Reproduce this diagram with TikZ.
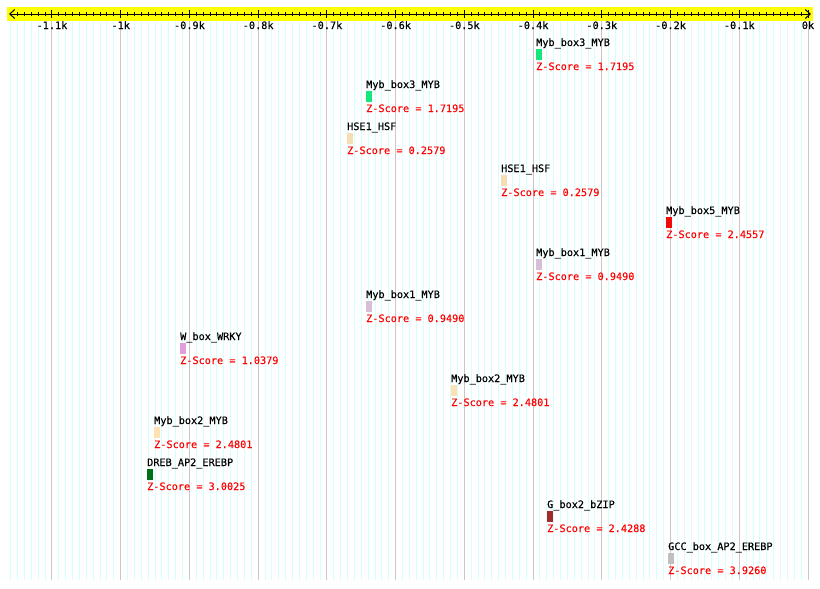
\documentclass[tikz,border=0pt]{standalone}
\usepackage{fontspec}
\newfontfamily\pixmono[FakeBold=0.3]{DejaVu Sans Mono}
\usetikzlibrary{arrows.meta}
\definecolor{gridcyan}{RGB}{212,255,255}
\definecolor{gridgray}{RGB}{200,200,200}
\definecolor{axisyellow}{RGB}{255,255,0}
\definecolor{mybgreen}{RGB}{20,232,125}
\definecolor{hsewheat}{RGB}{245,222,179}
\definecolor{mybred}{RGB}{240,10,10}
\definecolor{mybthistle}{RGB}{216,191,216}
\definecolor{wboxplum}{RGB}{221,160,221}
\definecolor{mybmocc}{RGB}{255,226,180}
\definecolor{drebgreen}{RGB}{0,112,24}
\definecolor{gboxbrown}{RGB}{165,42,42}
\definecolor{gccsilver}{RGB}{192,192,192}
\newcommand\motifitem[6]{%
  \node[lbl] (n#1) at (#2,{46+42*(#3-1)}) {#4};
  \node[mbox,fill=#5] (b#1) at (#2,{49+42*(#3-1)}) {};
  \node[zlbl] (z#1) at (#2,{70+42*(#3-1)}) {Z-Score = #6};}
\begin{document}
\begin{tikzpicture}[x=1pt,y=-1pt,
  lbl/.style={anchor=base west,inner sep=0pt,font=\pixmono\fontsize{10.2}{12}\selectfont,text=black},
  zlbl/.style={lbl,text=red},
  mbox/.style={anchor=north west,inner sep=0pt,minimum width=5.5pt,minimum height=11pt,draw=none},
  ticklbl/.style={anchor=base,inner sep=0pt,font=\pixmono\fontsize{10.2}{12}\selectfont,text=black},
  gridline/.style={line width=1pt}]
\useasboundingbox (0,0) rectangle (820,589);
\fill[white] (0,0) rectangle (820,589);
% grid
\foreach \i in {-116,...,0}
  \draw[gridline,gridcyan] ({808+6.873*\i},21) -- ({808+6.873*\i},580);
\foreach \i in {-11,...,0}
  \draw[gridline,gridgray] ({808+68.73*\i},21) -- ({808+68.73*\i},580);
% axis band
\fill[axisyellow] (7,7) rectangle (813,21);
\coordinate (axl) at (9,14);
\coordinate (axr) at (811,14);
\draw[line width=1pt,{Straight Barb[length=5pt,width=9pt]}-{Straight Barb[length=5pt,width=9pt]}] (axl) -- (axr);
\foreach \i in {-115,...,0}
  \draw[line width=1pt] ({808+6.873*\i},12) -- ++(0,4);
\foreach \i in {-11,...,0}
  \draw[line width=1pt] ({808+68.73*\i},10) -- ++(0,8);
\foreach \i/\t [count=\k] in {-11/-1.1k,-10/-1k,-9/-0.9k,-8/-0.8k,-7/-0.7k,-6/-0.6k,-5/-0.5k,-4/-0.4k,-3/-0.3k,-2/-0.2k,-1/-0.1k,0/0k}
  \node[ticklbl] (t\k) at ({808+68.73*\i},29) {\t};
% motifs
\motifitem{1}{536}{1}{Myb\_box3\_MYB}{mybgreen}{1.7195}
\motifitem{2}{366}{2}{Myb\_box3\_MYB}{mybgreen}{1.7195}
\motifitem{3}{347}{3}{HSE1\_HSF}{hsewheat}{0.2579}
\motifitem{4}{501}{4}{HSE1\_HSF}{hsewheat}{0.2579}
\motifitem{5}{666}{5}{Myb\_box5\_MYB}{mybred}{2.4557}
\motifitem{6}{536}{6}{Myb\_box1\_MYB}{mybthistle}{0.9490}
\motifitem{7}{366}{7}{Myb\_box1\_MYB}{mybthistle}{0.9490}
\motifitem{8}{180}{8}{W\_box\_WRKY}{wboxplum}{1.0379}
\motifitem{9}{451}{9}{Myb\_box2\_MYB}{mybmocc}{2.4801}
\motifitem{10}{154}{10}{Myb\_box2\_MYB}{mybmocc}{2.4801}
\motifitem{11}{147}{11}{DREB\_AP2\_EREBP}{drebgreen}{3.0025}
\motifitem{12}{547}{12}{G\_box2\_bZIP}{gboxbrown}{2.4288}
\motifitem{13}{668}{13}{GCC\_box\_AP2\_EREBP}{gccsilver}{3.9260}
\end{tikzpicture}
\end{document}
